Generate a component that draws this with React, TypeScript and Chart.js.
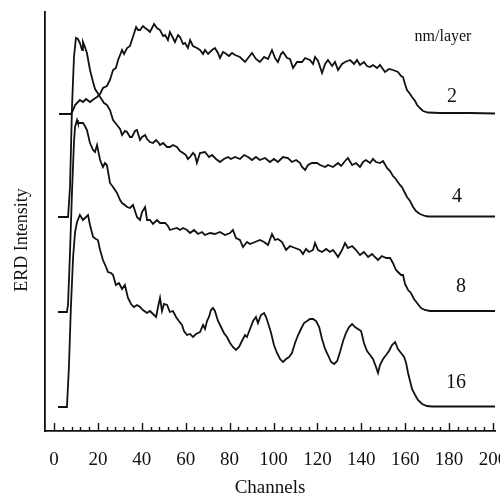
import React, { useEffect, useRef } from "react";
import { Chart, registerables } from "chart.js";

Chart.register(...registerables);

// ---- data (channels vs ERD intensity above each curve's own baseline) ----
const seriesNames = ["2", "4", "8", "16"]; // nm/layer
const offsets = [317, 214, 119, 24]; // vertical offset of each spectrum (a.u.)

const ch2 = [2.3,7.7,8.7,9.6,11.8,13.2,14.6,16.4,18.2,19.6,21,22.3,24.1,25.5,26.9,28.2,29.2,31,31.9,33.3,34.6,35.5,36.4,37.4,38.3,39.2,40.5,41.5,42.8,43.7,45.6,46.9,48.3,49.7,50.6,51.9,52.8,54.2,55.1,56.5,57.4,58.8,59.7,61,62,63.3,65.1,66.5,67.9,68.8,70.2,72,73.3,74.7,75.6,77,77.9,79.7,81.1,82.5,84.7,87,88.4,90.2,92,93.8,95.7,97.5,99.3,100.7,102,103.4,104.3,106.2,107.5,108.9,110.7,113,114.4,116.6,118,118.9,120.3,122.1,123.5,124.8,126.7,128,129.4,131.2,132.6,134.9,136.7,138,139.4,141.2,142.6,144,145.3,147.2,148.5,150.8,152.6,154.4,156.7,158.1,159,159.9,160.8,162.2,163.1,164.5,165.4,166.7,168.1,170.4,175.9,189.5,200.9];
const erd2 = [0,0,4,9,14,12,15,12,15,17,20,26,28,34,44,46,54,64,60,66,68,74,80,87,84,84,88,86,84,82,90,86,84,78,79,74,82,76,72,79,77,70,71,66,74,68,66,64,60,64,60,64,66,61,56,62,61,58,61,59,57,52,56,61,55,52,57,55,64,56,52,60,62,56,55,46,52,52,56,54,50,57,53,41,50,54,48,52,44,50,52,54,50,54,49,52,48,47,49,46,49,42,45,44,42,38,37,30,24,20,17,13,9,6,3,1.5,1,1,0.5];

const ch4 = [1.8,6.4,7.3,8.2,9.1,10,10.9,11.8,12.8,13.2,14.1,15,16.4,17.8,18.7,19.6,21,22.8,24.1,25.5,26.9,28.7,30.1,31,32.3,33.3,34.6,35.5,36.9,37.8,39.2,40.1,41.5,42.4,43.7,45.1,46.5,47.4,48.3,49.7,51.5,52.8,54.2,56,57.4,58.8,60.1,61,62,63.3,64.2,65.1,66.5,68.8,70.6,72,73.8,75.6,77.4,79.3,80.6,82.5,84.7,86.6,88.4,90.2,92,93.8,96.1,98.4,100.2,102,104.3,106.6,108.4,110.3,112.1,113,114.4,115.7,117.5,119.8,121.2,123.5,124.8,127.1,129.4,130.8,132.6,133.9,135.8,137.6,139.4,140.8,142.1,144,145.3,146.7,148.5,149.9,151.7,153.1,154.4,155.4,156.3,157.6,158.5,159.9,160.8,162.2,163.6,164.9,166.7,169,170.4,200.9];
const erd4 = [0,0,30,110,160,179,178,174,167,175,170,164,147,135,128,125,120,114,112,107,97,92,88,82,86,85,80,80,86,87,77,80,82,78,75,74,77,75,72,74,70,70,72,70,66,64,62,58,60,64,62,54,64,65,60,62,58,55,58,60,58,60,58,62,60,57,60,57,59,55,58,55,60,59,55,57,54,50,47,52,54,54,52,50,52,50,54,51,56,59,52,54,50,55,57,54,58,55,54,56,49,46,41,39,36,32,30,24,20,16,10,6,3,1,0.5,0.5];

const ch8 = [1.8,5.9,6.4,7.3,8.2,9.1,9.6,10.5,10.9,11.8,13.2,14.1,15,16.4,17.8,18.7,19.6,21,22.3,23.2,24.1,25.5,26.9,28.7,30.1,31,32.3,33.3,34.6,36,37.8,39.2,40.1,41.5,42.4,43.7,45.1,46.9,48.3,50.6,51.9,52.8,54.2,56,57.4,58.8,60.6,62,63.8,65.6,67.4,68.8,71.1,73.3,75.6,77.9,80.2,81.5,82.9,84.7,86.1,87.9,89.3,91.6,93.8,95.7,97.5,99.3,100.7,102,103.9,105.7,107.5,109.8,112.1,113.4,114.8,116.2,118,118.9,120.3,122.1,124,125.7,127.1,128.5,129.4,131.2,132.6,133.9,135.8,137.6,139.4,141.2,143.1,144.9,146.2,147.6,149.4,151.3,153.1,154.4,155.8,156.7,158.1,159,159.9,161.3,162.6,164,165.4,167.2,169,171.3,200.9];
const erd8 = [0,0,8,60,120,170,185,192,189,189,189,186,182,169,162,160,167,152,145,149,147,129,125,119,112,109,107,105,104,107,95,92,100,105,92,92,88,92,89,89,86,82,83,84,82,84,82,79,82,78,80,77,79,78,80,77,79,82,74,72,65,70,68,70,72,70,67,78,72,73,70,62,66,64,62,58,63,60,62,69,62,60,63,60,62,58,55,62,69,64,66,62,57,60,55,58,55,52,56,54,54,49,42,40,37,37,28,22,19,13,9,4,2,1,1];

const ch16 = [1.8,5.9,6.8,7.7,8.7,9.6,10.5,11.8,13.2,14.6,15.5,16.4,17.8,19.1,20,21,22.3,23.7,24.6,26,26.9,28.2,29.6,31,32.3,33.7,35.1,36.4,37.8,39.2,40.5,42.4,43.7,45.1,46.5,47.4,48.3,49.2,50.1,51.5,52.8,54.2,55.6,56.9,58.3,59.2,60.6,62,63.3,64.7,66.5,67.9,68.8,69.7,70.6,71.5,72.4,73.3,74.7,76.1,77.4,78.8,80.2,81.5,82.9,84.3,85.6,87,87.9,89.3,90.7,92,92.9,94.3,95.7,96.6,97.5,98.9,100.2,101.6,103,104.3,105.7,107.1,108.4,109.8,111.2,112.5,113.9,115.3,116.6,118,119.4,120.8,122.1,123.5,124.8,126.2,127.6,129,130.3,131.7,133,134.4,135.8,137.1,138.5,139.9,141.2,142.6,144,145.3,146.7,147.6,148.5,149.9,151.3,152.6,154,155.4,156.7,158.1,159.5,160.4,161.3,162.2,163.1,164.5,165.8,167.7,169.9,172.2,200.9];
const erd16 = [0,0,40,100,150,175,185,192,187,190,192,182,170,168,167,157,147,140,135,134,132,122,124,118,122,109,103,100,102,100,97,94,96,93,90,100,109,96,103,102,95,96,90,86,82,76,72,73,70,73,75,82,78,86,90,97,99,96,86,80,74,70,64,60,57,60,66,72,70,78,86,90,84,92,94,90,84,74,62,54,48,45,48,50,54,64,72,78,84,86,88,88,86,80,68,58,52,45,43,46,55,66,74,80,83,80,78,76,64,56,52,48,40,34,42,48,52,56,62,65,58,54,50,44,34,26,18,12,7,3,1,0.5,0.5];

const channelSets = [ch2, ch4, ch8, ch16];
const erdSets = [erd2, erd4, erd8, erd16];

const xMin = -4.1;
const xMax = 200.9;
const xMajorStep = 20;
const xMinorStep = 4;
const yMax = 419;

// label anchors in data coordinates
const labelChannels = [181.3, 183.6, 185.4, 183.1];
const labelLift = [17, 20, 25, 24];
const unitLabel = "nm/layer";
const unitChannel = 177.2;
const unitValue = 394;
const yTitle = "ERD Intensity";
const xTitle = "Channels";

const SERIF = '"Liberation Serif", "Times New Roman", serif';

const decorPlugin = {
  id: "decor",
  afterDraw(chart: any) {
    const { ctx, chartArea, scales } = chart;
    const xs = scales.x;
    const ys = scales.y;
    ctx.save();
    // inward ticks on the x axis
    ctx.strokeStyle = "#111";
    ctx.lineWidth = 1.4;
    for (let v = 0; v <= 200; v += xMinorStep) {
      const px = Math.round(xs.getPixelForValue(v)) + 0.5;
      const len = v % xMajorStep === 0 ? 8 : 4;
      ctx.beginPath();
      ctx.moveTo(px, chartArea.bottom);
      ctx.lineTo(px, chartArea.bottom - len);
      ctx.stroke();
    }
    ctx.fillStyle = "#111";
    ctx.textAlign = "center";
    ctx.textBaseline = "middle";
    ctx.font = `20px ${SERIF}`;
    seriesNames.forEach((t, i) => {
      ctx.fillText(
        t,
        xs.getPixelForValue(labelChannels[i]),
        ys.getPixelForValue(offsets[i] + labelLift[i])
      );
    });
    ctx.font = `16px ${SERIF}`;
    ctx.fillText(unitLabel, xs.getPixelForValue(unitChannel), ys.getPixelForValue(unitValue));
    // y axis title
    ctx.translate(chartArea.left - 23, ys.getPixelForValue(191));
    ctx.rotate(-Math.PI / 2);
    ctx.font = `18px ${SERIF}`;
    ctx.fillText(yTitle, 0, 0);
    ctx.restore();
  },
};

export default function App() {
  const canvasRef = useRef<HTMLCanvasElement | null>(null);

  useEffect(() => {
    const canvas = canvasRef.current;
    if (!canvas) return;
    const datasets = seriesNames.map((name, i) => ({
      label: name + " nm/layer",
      data: channelSets[i].map((c, k) => ({ x: c, y: erdSets[i][k] + offsets[i] })),
      borderColor: "#111",
      borderWidth: 1.8,
      pointRadius: 0,
      tension: 0,
      fill: false,
    }));
    const chart = new Chart(canvas, {
      type: "line",
      data: { datasets },
      plugins: [decorPlugin],
      options: {
        animation: false,
        responsive: false,
        devicePixelRatio: 1,
        layout: { padding: { left: 0, right: 5, top: 12, bottom: 0 } },
        plugins: { legend: { display: false }, tooltip: { enabled: false } },
        scales: {
          x: {
            type: "linear",
            min: xMin,
            max: xMax,
            grid: { display: false, drawTicks: false },
            border: { display: true, color: "#111", width: 1.8 },
            ticks: {
              stepSize: xMajorStep,
              includeBounds: false,
              autoSkip: false,
              maxRotation: 0,
              minRotation: 0,
              padding: 18,
              color: "#111",
              font: { family: SERIF, size: 19 },
            },
            title: {
              display: true,
              text: xTitle,
              color: "#111",
              font: { family: SERIF, size: 19 },
              padding: { top: 0, bottom: 0 },
            },
            afterFit: (scale: any) => {
              scale.height = 68;
              scale.paddingLeft = 0;
              scale.paddingRight = 0;
            },
          },
          y: {
            type: "linear",
            min: 0,
            max: yMax,
            grid: { display: false, drawTicks: false },
            border: { display: true, color: "#111", width: 1.8 },
            ticks: { display: false },
            afterFit: (scale: any) => {
              scale.width = 45;
              scale.paddingTop = 0;
              scale.paddingBottom = 0;
            },
          },
        },
      },
    });
    return () => chart.destroy();
  }, []);

  return (
    <div style={{ position: "fixed", left: 0, top: 0, width: 500, height: 499, background: "#fff" }}>
      <canvas ref={canvasRef} width={500} height={499} style={{ display: "block" }} />
    </div>
  );
}
